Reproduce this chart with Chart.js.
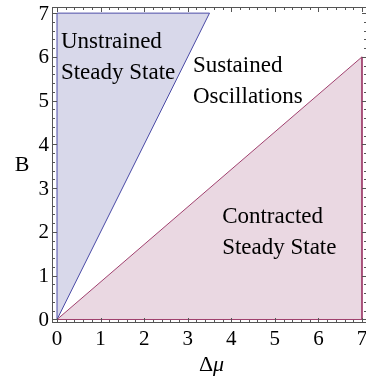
<!DOCTYPE html>
<html>
<head>
<meta charset="utf-8">
<script src="https://cdn.jsdelivr.net/npm/chart.js@4.4.0/dist/chart.umd.min.js"></script>
<style>
html,body{margin:0;padding:0;background:#fff;overflow:hidden;}
#wrap{width:372px;height:378px;}
</style>
</head>
<body>
<div id="wrap"><canvas id="c" width="372" height="378"></canvas></div>
<script>
// Region boundaries (Δμ, B)
const unstrainedX = [0, 0, 3.5, 0];
const unstrainedY = [0, 7, 7, 0];
const contractedX = [0, 7, 7, 0];
const contractedY = [0, 6, 0, 0];
const xTicks = [0, 1, 2, 3, 4, 5, 6, 7];
const yTicks = [0, 1, 2, 3, 4, 5, 6, 7];
const regionLabels = [
  ["Unstrained", "Steady State"],
  ["Sustained", "Oscillations"],
  ["Contracted", "Steady State"]
];
const labelAnchors = [[0.09, 6.2], [3.12, 5.65], [3.79, 2.2]];

const toPts = (xs, ys) => xs.map((x, i) => ({x: x, y: ys[i]}));

const FAM = '"Liberation Serif"';

const framePlugin = {
  id: 'frame',
  afterDatasetsDraw(chart) {
    const ctx = chart.ctx;
    const a = chart.chartArea;
    const xs = chart.scales.x, ys = chart.scales.y;
    ctx.save();
    ctx.strokeStyle = '#555';
    ctx.lineWidth = 1;
    ctx.strokeRect(a.left + 0.5, a.top + 0.5, a.right - a.left - 1, a.bottom - a.top - 1);
    ctx.beginPath();
    for (let k = 0; k <= 35; k++) {
      const v = k * 0.2;
      const major = k % 5 === 0;
      const L = major ? 5 : 3;
      const px = Math.round(xs.getPixelForValue(v)) + 0.5;
      ctx.moveTo(px, a.bottom); ctx.lineTo(px, a.bottom - L);
      ctx.moveTo(px, a.top); ctx.lineTo(px, a.top + L);
      const py = Math.round(ys.getPixelForValue(v)) + 0.5;
      ctx.moveTo(a.left, py); ctx.lineTo(a.left + L, py);
      ctx.moveTo(a.right, py); ctx.lineTo(a.right - L, py);
    }
    ctx.stroke();
    // tick labels
    ctx.fillStyle = '#000';
    ctx.font = '21px ' + FAM;
    ctx.textAlign = 'center';
    ctx.textBaseline = 'alphabetic';
    xTicks.forEach(v => ctx.fillText(String(v), xs.getPixelForValue(v), a.bottom + 22));
    ctx.textAlign = 'right';
    ctx.textBaseline = 'middle';
    yTicks.forEach(v => ctx.fillText(String(v), a.left - 3, ys.getPixelForValue(v) + 1));
    // axis titles
    ctx.font = '22px ' + FAM;
    ctx.textAlign = 'center';
    ctx.textBaseline = 'middle';
    ctx.fillText('B', 22, (a.top + a.bottom) / 2);
    ctx.textBaseline = 'alphabetic';
    const cx = (a.left + a.right) / 2 + 2;
    ctx.font = 'italic 22px ' + FAM;
    const wm = ctx.measureText('μ').width;
    ctx.font = '22px ' + FAM;
    const wd = ctx.measureText('Δ').width;
    const x0 = cx - (wd + wm) / 2;
    ctx.textAlign = 'left';
    ctx.fillText('Δ', x0, 371);
    ctx.font = 'italic 22px ' + FAM;
    ctx.fillText('μ', x0 + wd, 371);
    // region labels
    ctx.font = '23px ' + FAM;
    ctx.textAlign = 'left';
    regionLabels.forEach((lines, i) => {
      const px = xs.getPixelForValue(labelAnchors[i][0]);
      const py = ys.getPixelForValue(labelAnchors[i][1]);
      lines.forEach((t, j) => ctx.fillText(t, px, py + j * 31));
    });
    ctx.restore();
  }
};

new Chart(document.getElementById('c'), {
  type: 'scatter',
  data: {
    datasets: [
      {
        data: toPts(unstrainedX, unstrainedY),
        showLine: true,
        fill: 'shape',
        backgroundColor: 'rgba(216,216,234,1)',
        borderColor: '#4a4aa6',
        borderWidth: 1,
        pointRadius: 0,
        tension: 0
      },
      {
        data: toPts(contractedX, contractedY),
        showLine: true,
        fill: 'shape',
        backgroundColor: 'rgba(234,216,226,1)',
        borderColor: '#a0406e',
        borderWidth: 1,
        pointRadius: 0,
        tension: 0
      }
    ]
  },
  options: {
    responsive: false,
    animation: false,
    events: [],
    layout: {padding: {left: 52, top: 7, right: 5, bottom: 55}},
    plugins: {legend: {display: false}, tooltip: {enabled: false}},
    scales: {
      x: {type: 'linear', min: -0.115, max: 7.115, display: false},
      y: {type: 'linear', min: -0.08, max: 7.14, display: false}
    }
  },
  plugins: [framePlugin]
});
</script>
</body>
</html>
